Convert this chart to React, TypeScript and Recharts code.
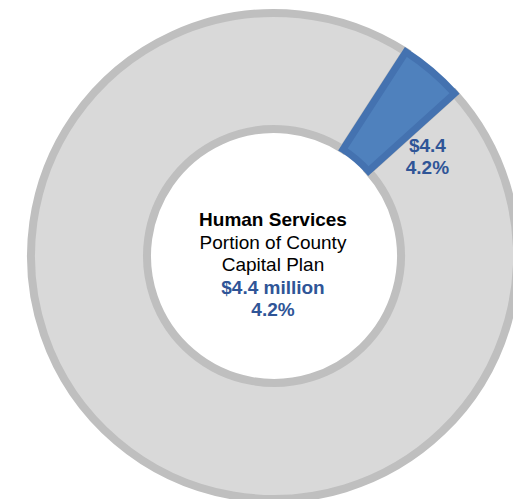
import React from "react";
import { PieChart, Pie, Cell, Label } from "recharts";

const categories = ["Other County Capital", "Human Services"];
const values = [100.4, 4.4];
const sliceLabels = ["$4.4", "4.2%"];
const centerLines = ["Human Services", "Portion of County", "Capital Plan", "$4.4 million", "4.2%"];

const fills = ["#d9d9d9", "#4f81bd"];
const strokes = ["#bfbfbf", "#4472b0"];
const BLUE_TEXT = "#2f5597";
const FONT = "Liberation Sans, Arial, sans-serif";

const data = categories.map((name, i) => ({ name, value: values[i] }));

const RAD = Math.PI / 180;

const renderSliceLabel = (props: any) => {
  const { cx, cy, midAngle, index } = props;
  if (index !== 1) return null;
  const a = (midAngle - 18) * RAD;
  const r = 180;
  const x = cx + r * Math.cos(a);
  const y = cy - r * Math.sin(a);
  return (
    <text
      x={x}
      y={y}
      textAnchor="middle"
      fill={BLUE_TEXT}
      fontFamily={FONT}
      fontWeight="bold"
      fontSize={19}
    >
      <tspan x={x} dy={-10}>{sliceLabels[0]}</tspan>
      <tspan x={x} dy={22}>{sliceLabels[1]}</tspan>
    </text>
  );
};

const renderCenter = (props: any) => {
  const vb = props.viewBox || {};
  const cx = vb.cx ?? 269;
  const cy = vb.cy ?? 251;
  const x = cx + 4;
  const startY = cy - 31;
  return (
    <text x={x} y={startY} textAnchor="middle" fontFamily={FONT} fontSize={19}>
      {centerLines.map((t, i) => (
        <tspan
          key={i}
          x={x}
          dy={i === 0 ? 6 : 22.5}
          fontWeight={i === 0 || i >= 3 ? "bold" : "normal"}
          fill={i >= 3 ? BLUE_TEXT : "#000000"}
        >
          {t}
        </tspan>
      ))}
    </text>
  );
};

export default function App() {
  return (
    <div style={{ position: "fixed", left: 0, top: 0, width: 513, height: 499, background: "#ffffff" }}>
      <PieChart width={513} height={499}>
        <Pie
          data={data}
          dataKey="value"
          nameKey="name"
          cx={269}
          cy={251}
          innerRadius={127}
          outerRadius={243}
          startAngle={42}
          endAngle={-318}
          paddingAngle={0}
          isAnimationActive={false}
          label={renderSliceLabel}
          labelLine={false}
        >
          {data.map((d, i) => (
            <Cell key={d.name} fill={fills[i]} stroke={strokes[i]} strokeWidth={i === 1 ? 7 : 8} />
          ))}
          <Label position="center" content={renderCenter} />
        </Pie>
      </PieChart>
    </div>
  );
}
